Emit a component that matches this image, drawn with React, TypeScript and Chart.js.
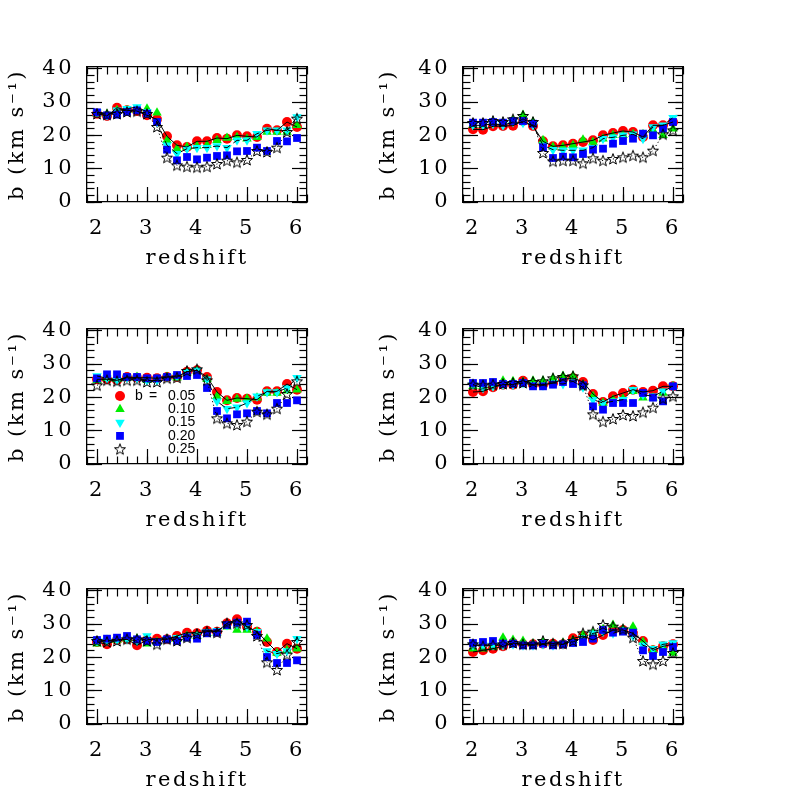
import React, { useEffect, useRef } from 'react';
import { Chart, registerables } from 'chart.js';
import { drawPoint } from 'chart.js/helpers';

Chart.register(...registerables);

// ---------------- data ----------------
const redshift = [2.0, 2.2, 2.4, 2.6, 2.8, 3.0, 3.2, 3.4, 3.6, 3.8, 4.0, 4.2, 4.4, 4.6, 4.8, 5.0, 5.2, 5.4, 5.6, 5.8, 6.0];
const xTickValues = [2, 3, 4, 5, 6];
const yTickValues = [0, 10, 20, 30, 40];
const bLabels = ['0.05', '0.10', '0.15', '0.20', '0.25'];
const xTitle = 'redshift';
const yTitle = 'b (km s\u207B\u00B9)';

// panel 1 (top left)
const p1b05 = [26.5, 25.8, 28.3, 27.5, 27.3, 26.0, 24.8, 19.7, 17.0, 16.5, 18.2, 18.2, 19.2, 19.0, 20.0, 19.7, 19.5, 22.0, 21.5, 24.0, 22.5];
const p1b10 = [26.5, 26.4, 27.5, 27.5, 27.5, 28.0, 26.8, 18.5, 16.0, 16.5, 16.8, 17.0, 18.5, 19.2, 19.4, 19.0, 19.4, 21.0, 21.0, 21.0, 23.0];
const p1b15 = [26.9, 26.0, 27.5, 28.0, 28.5, 27.0, 24.0, 17.0, 14.5, 16.0, 16.3, 16.3, 16.8, 16.3, 18.5, 18.5, 20.5, 21.5, 21.5, 21.5, 25.5];
const p1b20 = [26.9, 26.0, 26.2, 27.0, 27.5, 26.5, 24.0, 15.7, 12.5, 13.5, 12.8, 13.3, 13.8, 14.0, 15.2, 15.3, 16.3, 15.3, 18.3, 18.2, 19.2];
const p1b25 = [26.4, 26.2, 26.4, 27.0, 27.2, 26.4, 22.5, 13.3, 11.0, 10.6, 10.4, 10.6, 11.4, 12.4, 11.9, 12.6, 15.3, 15.0, 16.3, 21.0, 25.0];

// panel 2 (top right)
const p2b05 = [21.8, 21.7, 22.7, 22.8, 22.9, 24.3, 22.8, 18.2, 16.7, 17.0, 17.5, 18.0, 18.5, 20.0, 20.7, 21.3, 21.0, 19.5, 23.0, 23.0, 24.0];
const p2b10 = [23.0, 23.0, 24.0, 23.7, 24.5, 26.1, 24.0, 18.5, 16.5, 16.5, 17.0, 18.7, 18.0, 19.0, 20.0, 20.0, 20.3, 20.3, 21.5, 20.0, 22.0];
const p2b15 = [23.0, 23.0, 23.5, 23.0, 24.0, 23.8, 23.0, 17.0, 15.7, 15.5, 15.5, 15.5, 16.3, 19.0, 19.4, 20.0, 20.3, 19.0, 22.5, 23.0, 25.3];
const p2b20 = [23.8, 23.8, 24.0, 23.8, 24.3, 24.3, 23.5, 16.4, 13.2, 13.6, 13.4, 14.4, 15.7, 16.0, 17.5, 18.3, 19.0, 20.5, 20.0, 22.0, 24.0];
const p2b25 = [23.7, 23.7, 24.3, 24.0, 24.8, 25.8, 24.0, 14.7, 12.2, 12.4, 12.4, 11.6, 13.1, 12.4, 12.9, 13.4, 13.9, 13.4, 15.4, 20.3, 21.5];

// panel 3 (middle left)
const p3b05 = [25.4, 25.4, 25.1, 26.1, 25.9, 25.9, 25.7, 26.1, 26.1, 27.7, 28.1, 26.1, 21.6, 19.1, 19.8, 19.6, 19.3, 21.8, 21.8, 24.0, 22.3];
const p3b10 = [25.1, 25.7, 25.4, 25.7, 26.1, 25.1, 25.4, 26.1, 25.9, 27.4, 27.9, 25.4, 20.3, 18.8, 19.5, 19.6, 19.9, 21.3, 21.3, 22.0, 22.3];
const p3b15 = [26.4, 25.7, 25.1, 25.9, 25.7, 25.1, 25.1, 26.1, 26.4, 27.7, 28.1, 25.4, 18.8, 16.6, 17.0, 18.3, 20.3, 21.6, 21.6, 22.8, 25.9];
const p3b20 = [25.7, 26.9, 26.9, 26.1, 26.1, 25.7, 25.7, 26.1, 26.7, 26.4, 26.7, 22.8, 15.9, 13.7, 14.9, 15.2, 15.9, 15.2, 18.3, 18.3, 19.1];
const p3b25 = [23.6, 25.1, 24.8, 25.1, 25.1, 24.6, 24.6, 25.7, 25.9, 27.9, 28.4, 25.1, 13.7, 12.2, 11.7, 12.7, 15.7, 14.9, 16.6, 21.0, 24.8];

// panel 4 (middle right)
const p4b05 = [21.6, 21.8, 23.0, 23.8, 23.8, 25.0, 23.8, 23.8, 24.3, 25.4, 25.8, 24.6, 21.0, 18.6, 20.3, 21.3, 22.3, 21.6, 22.0, 23.3, 23.3];
const p4b10 = [23.3, 23.3, 24.0, 25.0, 24.8, 24.6, 25.0, 25.0, 25.7, 26.4, 26.4, 23.8, 20.3, 18.3, 19.3, 19.6, 21.8, 19.9, 19.9, 21.3, 23.3];
const p4b15 = [23.8, 22.8, 23.3, 23.8, 23.8, 24.3, 23.8, 23.6, 24.3, 24.0, 24.8, 23.0, 19.3, 18.3, 18.8, 19.3, 22.3, 20.8, 20.3, 21.8, 23.3];
const p4b20 = [24.3, 24.3, 24.6, 24.0, 24.0, 24.3, 23.3, 23.3, 23.8, 24.6, 24.0, 23.6, 17.3, 16.3, 18.3, 18.3, 18.3, 21.3, 19.9, 18.8, 23.3];
const p4b25 = [23.8, 23.6, 23.8, 24.0, 24.3, 24.3, 24.6, 24.8, 25.7, 26.1, 26.3, 23.6, 14.9, 12.7, 13.5, 14.7, 14.4, 15.5, 16.9, 19.6, 20.3];

// panel 5 (bottom left)
const p5b05 = [24.6, 23.9, 25.2, 25.4, 23.6, 25.2, 25.6, 25.4, 26.4, 27.4, 27.2, 28.0, 27.7, 30.2, 31.4, 29.2, 27.7, 24.6, 21.6, 24.1, 22.6];
const p5b10 = [24.1, 25.2, 25.2, 25.6, 25.6, 24.1, 24.6, 25.4, 25.4, 26.4, 26.4, 27.2, 27.4, 29.2, 28.2, 28.2, 27.7, 25.6, 21.3, 22.1, 22.6];
const p5b15 = [24.9, 24.9, 25.2, 25.4, 24.9, 26.4, 24.9, 25.6, 25.9, 26.4, 26.7, 27.7, 28.0, 29.7, 30.0, 29.2, 27.7, 21.9, 21.1, 21.9, 25.6];
const p5b20 = [25.2, 25.6, 25.9, 26.4, 25.4, 24.9, 24.6, 25.4, 24.9, 25.9, 25.6, 27.2, 27.4, 29.7, 30.4, 30.7, 26.7, 20.1, 18.3, 18.3, 19.1];
const p5b25 = [24.9, 24.6, 24.9, 25.4, 25.4, 24.9, 23.9, 25.4, 24.9, 25.9, 27.0, 27.7, 27.4, 30.2, 30.2, 29.7, 26.4, 18.5, 16.2, 20.8, 24.6];

// panel 6 (bottom right)
const p6b05 = [21.6, 22.1, 22.6, 23.3, 24.3, 23.9, 23.9, 24.1, 24.1, 23.9, 25.7, 26.4, 25.2, 26.7, 28.2, 28.2, 27.2, 24.9, 22.1, 23.3, 23.9];
const p6b10 = [22.6, 22.6, 23.1, 25.9, 25.2, 24.9, 24.1, 24.6, 24.1, 24.3, 25.1, 26.7, 27.4, 28.4, 29.7, 28.4, 29.2, 24.6, 22.1, 23.1, 21.3];
const p6b15 = [23.6, 23.6, 23.6, 23.6, 23.9, 23.6, 23.6, 23.9, 23.6, 23.9, 24.6, 25.9, 27.2, 27.7, 27.2, 28.2, 26.4, 23.6, 22.6, 23.9, 24.3];
const p6b20 = [24.3, 24.6, 24.9, 24.1, 24.1, 23.6, 23.6, 24.1, 23.6, 23.9, 24.3, 24.6, 25.6, 28.2, 27.4, 27.7, 27.4, 22.1, 20.4, 21.6, 23.1];
const p6b25 = [23.9, 23.3, 23.6, 23.9, 24.3, 23.9, 23.9, 24.9, 24.1, 24.1, 24.9, 27.2, 27.7, 29.7, 29.2, 28.4, 25.9, 18.9, 17.9, 18.9, 21.3];

const panelSeries = [
  [p1b05, p1b10, p1b15, p1b20, p1b25],
  [p2b05, p2b10, p2b15, p2b20, p2b25],
  [p3b05, p3b10, p3b15, p3b20, p3b25],
  [p4b05, p4b10, p4b15, p4b20, p4b25],
  [p5b05, p5b10, p5b15, p5b20, p5b25],
  [p6b05, p6b10, p6b15, p6b20, p6b25],
];
const legendPanel = 2;

// ---------------- layout / style ----------------
const X_MIN = 1.8;
const X_MAX = 6.2;
const Y_MIN = 0;
const Y_MAX = 40.5;
const BOX_LEFT = [87, 463];
const BOX_TOP = [67, 329, 589];
const AXIS_W = 87;
const AXIS_H = 70;
const PAD_TOP = 28;
const PAD_RIGHT = 20;
const BOX_W = 220;
const BOX_H = 135;
const CW = AXIS_W + BOX_W + PAD_RIGHT;
const CH = PAD_TOP + BOX_H + AXIS_H;
const INK = '#000';
const SERIF = 'DejaVu Serif';
const tickFont = { family: SERIF, size: 21 };
const titleFont = { family: SERIF, size: 21 };
const colors = ['#ff0000', '#00ee00', '#00ffff', '#0000ff', '#000000'];

function makeStar(): HTMLCanvasElement {
  const c = document.createElement('canvas');
  c.width = 14;
  c.height = 14;
  const g = c.getContext('2d') as CanvasRenderingContext2D;
  g.beginPath();
  for (let k = 0; k < 10; k++) {
    const r = k % 2 === 0 ? 5.8 : 2.4;
    const a = -Math.PI / 2 + (k * Math.PI) / 5;
    const px = 7 + r * Math.cos(a);
    const py = 7.4 + r * Math.sin(a);
    if (k === 0) g.moveTo(px, py);
    else g.lineTo(px, py);
  }
  g.closePath();
  g.strokeStyle = '#000';
  g.lineWidth = 1;
  g.stroke();
  return c;
}

function markerStyles(star: HTMLCanvasElement) {
  return [
    { pointStyle: 'circle', radius: 5, rotation: 0 },
    { pointStyle: 'triangle', radius: 5.5, rotation: 0 },
    { pointStyle: 'triangle', radius: 5.5, rotation: 180 },
    { pointStyle: 'rect', radius: 5.5, rotation: 0 },
    { pointStyle: star, radius: 5, rotation: 0 },
  ];
}

function markAxis(position: string, step: number, len: number, border: boolean) {
  const horiz = position === 'top' || position === 'bottom';
  return {
    type: 'linear',
    position,
    weight: 0,
    min: horiz ? X_MIN : Y_MIN,
    max: horiz ? X_MAX : Y_MAX,
    ticks: { display: false, stepSize: step, includeBounds: false },
    grid: { display: true, drawOnChartArea: false, drawTicks: true, tickLength: -len, tickWidth: 1.2, tickColor: INK },
    border: { display: border, color: INK, width: 1.3 },
    title: { display: false },
    afterFit: (s: any) => {
      if (horiz) s.height = 0;
      else s.width = 0;
    },
  };
}

const spacingPlugin = {
  id: 'letterSpacing',
  beforeDraw(chart: any) {
    chart.ctx.letterSpacing = '2.5px';
  },
};

const legendPlugin = {
  id: 'bLegend',
  afterDatasetsDraw(chart: any, _args: any, opts: any) {
    if (!opts || !opts.show) return;
    const { ctx, chartArea } = chart;
    const styles = opts.styles;
    ctx.save();
    ctx.letterSpacing = '0px';
    ctx.font = '14px "Liberation Sans"';
    ctx.textBaseline = 'middle';
    ctx.textAlign = 'left';
    for (let i = 0; i < bLabels.length; i++) {
      const y = chartArea.top + 67 + i * 13.3;
      const x = chartArea.left + 33;
      ctx.fillStyle = colors[i];
      drawPoint(ctx, { pointStyle: styles[i].pointStyle, radius: styles[i].radius, rotation: styles[i].rotation, borderWidth: 0 } as any, x, y);
      ctx.fillStyle = INK;
      if (i === 0) {
        ctx.fillText('b', chartArea.left + 48, y);
        ctx.fillText('=', chartArea.left + 62, y);
      }
      ctx.fillText(bLabels[i], chartArea.left + 81, y);
    }
    ctx.restore();
  },
};

function Panel({ index }: { index: number }) {
  const ref = useRef<HTMLCanvasElement>(null);
  const col = index % 2;
  const row = Math.floor(index / 2);
  const left = BOX_LEFT[col] - AXIS_W;
  const top = BOX_TOP[row] - PAD_TOP;

  useEffect(() => {
    const canvas = ref.current as HTMLCanvasElement;
    const star = makeStar();
    const styles = markerStyles(star);
    const series = panelSeries[index];
    const pts = (vals: number[]) => redshift.map((x, i) => ({ x, y: vals[i] }));

    const lineSets = [
      { data: pts(series[0]), showLine: true, borderColor: INK, borderWidth: 1, pointRadius: 0, order: 3 },
      { data: pts(series[2]), showLine: true, borderColor: INK, borderWidth: 1, borderDash: [7, 4], pointRadius: 0, order: 3 },
      { data: pts(series[4]), showLine: true, borderColor: INK, borderWidth: 1, borderDash: [1.2, 2.5], pointRadius: 0, order: 3 },
    ];
    const markerOrder = [10, 9, 8, 7, 1];
    const markerSets = series.map((vals, k) => ({
      data: pts(vals),
      showLine: false,
      pointStyle: styles[k].pointStyle,
      pointRadius: styles[k].radius,
      pointRotation: styles[k].rotation,
      pointBackgroundColor: k === 4 ? 'rgba(0,0,0,0)' : colors[k],
      pointBorderColor: colors[k],
      pointBorderWidth: 0,
      order: markerOrder[k],
    }));

    const chart = new Chart(canvas, {
      type: 'scatter',
      data: { datasets: [...markerSets, ...lineSets] as any },
      options: {
        responsive: false,
        animation: false,
        devicePixelRatio: 1,
        events: [],
        layout: { padding: { left: 0, top: PAD_TOP, right: PAD_RIGHT, bottom: 0 } },
        plugins: {
          legend: { display: false },
          tooltip: { enabled: false },
          bLegend: { show: index === legendPanel, styles },
        } as any,
        scales: {
          x: {
            type: 'linear',
            position: 'bottom',
            weight: 1,
            min: X_MIN,
            max: X_MAX,
            afterBuildTicks: (s: any) => {
              s.ticks = xTickValues.map((v) => ({ value: v }));
            },
            ticks: { display: true, font: tickFont, color: INK, padding: 14, autoSkip: false, maxRotation: 0, minRotation: 0, callback: (v: any) => String(v) },
            grid: { display: true, drawOnChartArea: false, drawTicks: false },
            border: { display: true, color: INK, width: 1.3 },
            title: { display: true, text: xTitle, font: titleFont, color: INK, padding: { top: 0, bottom: 1 } },
            afterFit: (s: any) => {
              s.height = AXIS_H;
            },
          },
          xMaj: markAxis('bottom', 1, 15, false),
          xMin: markAxis('bottom', 0.2, 7.5, false),
          xTopMaj: markAxis('top', 1, 15, true),
          xTopMin: markAxis('top', 0.2, 7.5, false),
          y: {
            type: 'linear',
            position: 'left',
            weight: 1,
            min: Y_MIN,
            max: Y_MAX,
            afterBuildTicks: (s: any) => {
              s.ticks = yTickValues.map((v) => ({ value: v }));
            },
            ticks: { display: true, font: tickFont, color: INK, padding: 13, autoSkip: false, callback: (v: any) => String(v) },
            grid: { display: true, drawOnChartArea: false, drawTicks: false },
            border: { display: true, color: INK, width: 1.3 },
            title: { display: true, text: yTitle, font: titleFont, color: INK, padding: { top: col === 0 ? 4.9 : 0, bottom: 0 } },
            afterFit: (s: any) => {
              s.width = AXIS_W;
            },
          },
          yMaj: markAxis('left', 10, 15, false),
          yMin: markAxis('left', 2, 7.5, false),
          yRMaj: markAxis('right', 10, 15, true),
          yRMin: markAxis('right', 2, 7.5, false),
        } as any,
      },
      plugins: [spacingPlugin, legendPlugin] as any,
    });
    return () => chart.destroy();
  }, [index]);

  return (
    <canvas
      ref={ref}
      width={CW}
      height={CH}
      style={{ position: 'absolute', left, top, width: CW, height: CH }}
    />
  );
}

export default function App() {
  return (
    <div style={{ position: 'absolute', left: 0, top: 0, width: 797, height: 797, overflow: 'hidden', background: '#fff' }}>
      {panelSeries.map((_, i) => (
        <Panel key={i} index={i} />
      ))}
    </div>
  );
}
